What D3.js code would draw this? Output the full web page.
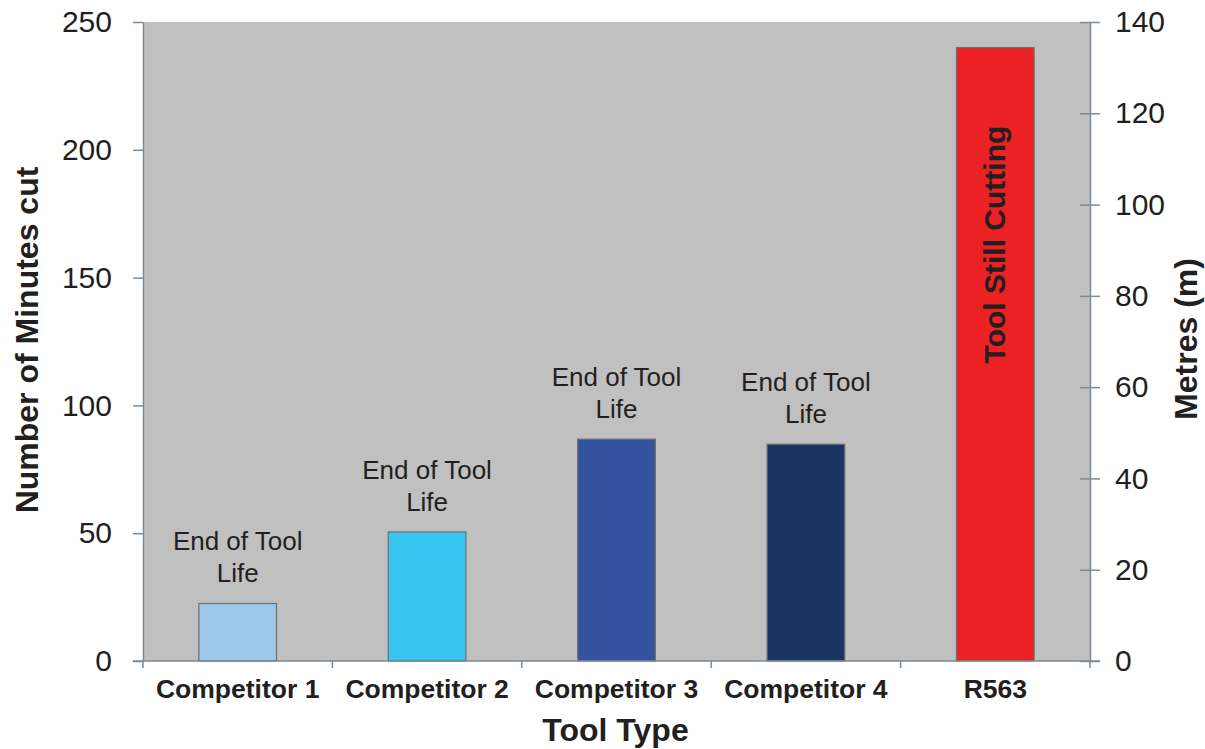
<!doctype html>
<html lang='en'>
<head>
<meta charset='UTF-8'>
<title>Tool life</title>
<style>
  body { margin: 0; background: #fff; }
  text { font-family: 'Liberation Sans', Arial, sans-serif; fill: #231f20; }
  .axis path, .axis line { stroke: #7d8a96; stroke-width: 1.5; }
  .axis text { font-size: 30px; fill: #231f20; }
  .xaxis text { font-size: 26.5px; font-weight: bold; }
  .title { font-size: 32px; font-weight: bold; }
  .note { font-size: 26px; }
</style>
</head>
<body>
<script src='https://d3js.org/d3.v7.min.js'></script>
<script>
  const categories = ['Competitor 1', 'Competitor 2', 'Competitor 3', 'Competitor 4', 'R563']
  const minutes = [22.5, 50.5, 86.8, 84.8, 240]
  const barColors = ['#9dc8ea', '#35c5f0', '#3452a0', '#1a3461', '#ec2124']
  const notes = ['End of Tool Life', 'End of Tool Life', 'End of Tool Life', 'End of Tool Life', 'Tool Still Cutting']
  const leftTicks = [0, 50, 100, 150, 200, 250]
  const rightTicks = [0, 20, 40, 60, 80, 100, 120, 140]

  const W = 1205, H = 749
  const margin = {top: 22, right: 115, bottom: 88, left: 143}
  const w = W - margin.left - margin.right
  const h = H - margin.top - margin.bottom

  const svg = d3.select('body').append('svg')
    .attr('width', W)
    .attr('height', H)

  const g = svg.append('g')
    .attr('transform', `translate(${margin.left},${margin.top})`)

  const x = d3.scaleBand()
    .domain(categories)
    .range([0, w])
    .paddingInner(0.59)
    .paddingOuter(0.295)

  const xTicks = d3.scaleBand().domain(categories).range([0, w])

  const y = d3.scaleLinear().domain([0, 250]).range([h, 0])
  const y2 = d3.scaleLinear().domain([0, 140]).range([h, 0])

  // plot background
  g.append('rect')
    .attr('width', w)
    .attr('height', h)
    .attr('fill', '#c0c0c0')

  // bars
  g.selectAll('rect.bar')
    .data(minutes)
    .enter()
    .append('rect')
    .attr('class', 'bar')
    .attr('x', (d, i) => x(categories[i]))
    .attr('y', d => y(d))
    .attr('width', x.bandwidth())
    .attr('height', d => h - y(d))
    .attr('fill', (d, i) => barColors[i])
    .attr('stroke', '#6b6f73')
    .attr('stroke-width', 1.2)

  // notes above / inside the bars
  minutes.forEach((d, i) => {
    const cx = x(categories[i]) + x.bandwidth() / 2
    if (notes[i] === 'Tool Still Cutting') {
      g.append('text')
        .attr('class', 'title')
        .attr('transform', `translate(${cx + 10},${y(d) + 197}) rotate(-90)`)
        .attr('text-anchor', 'middle')
        .style('font-size', '30px')
        .text(notes[i])
    } else {
      const t = g.append('text')
        .attr('class', 'note')
        .attr('text-anchor', 'middle')
      t.append('tspan').attr('x', cx).attr('y', y(d) - 53).text('End of Tool')
      t.append('tspan').attr('x', cx).attr('y', y(d) - 21).text('Life')
    }
  })

  // axes
  g.append('g')
    .attr('class', 'axis')
    .call(d3.axisLeft(y).tickValues(leftTicks).tickSizeInner(10).tickSizeOuter(0).tickPadding(21))

  g.append('g')
    .attr('class', 'axis')
    .attr('transform', `translate(${w},0)`)
    .call(d3.axisRight(y2).tickValues(rightTicks).tickSizeInner(10).tickSizeOuter(0).tickPadding(15))
    .selectAll('.tick line').attr('x1', -10)

  const xa = g.append('g')
    .attr('class', 'axis xaxis')
    .attr('transform', `translate(0,${h})`)
    .call(d3.axisBottom(xTicks).tickSize(0).tickPadding(18))
  xa.select('.domain').attr('d', `M-10,0H${w + 10}`)

  // category boundary ticks
  xa.selectAll('line.sep')
    .data(d3.range(categories.length + 1))
    .enter()
    .append('line')
    .attr('x1', i => i * xTicks.step())
    .attr('x2', i => i * xTicks.step())
    .attr('y1', 0)
    .attr('y2', 7)

  // axis titles
  svg.append('text')
    .attr('class', 'title')
    .attr('transform', `translate(38,340) rotate(-90)`)
    .attr('text-anchor', 'middle')
    .text('Number of Minutes cut')

  svg.append('text')
    .attr('class', 'title')
    .attr('transform', `translate(1197,339) rotate(-90)`)
    .attr('text-anchor', 'middle')
    .text('Metres (m)')

  svg.append('text')
    .attr('class', 'title')
    .attr('x', margin.left + w / 2 - 1)
    .attr('y', 741)
    .attr('text-anchor', 'middle')
    .text('Tool Type')
</script>
</body>
</html>
